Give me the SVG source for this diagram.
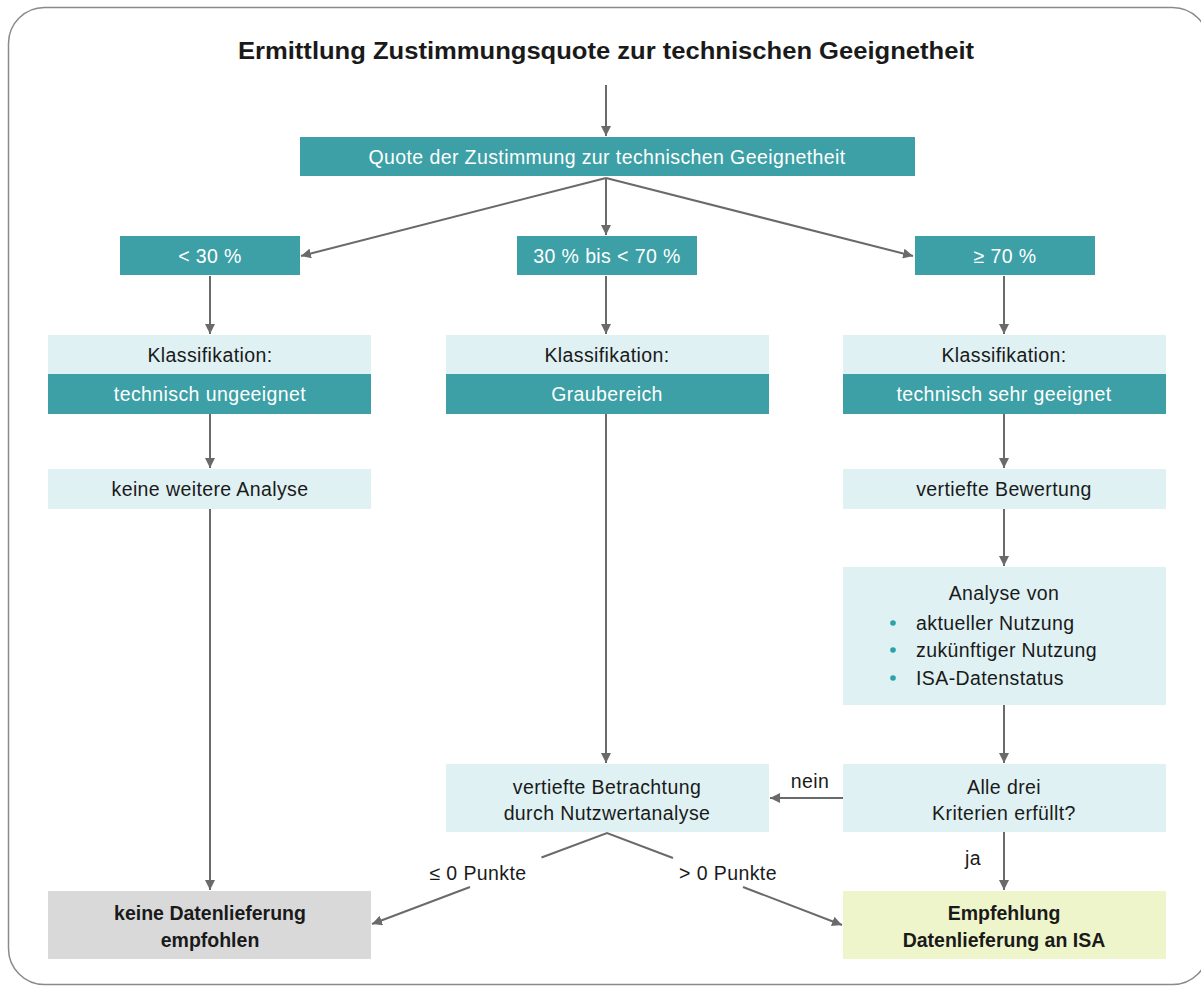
<svg xmlns="http://www.w3.org/2000/svg" width="1201" height="987" viewBox="0 0 1201 987">
<defs>
<marker id="ah" viewBox="0 0 10 10" refX="10" refY="5" markerWidth="10" markerHeight="10" markerUnits="userSpaceOnUse" orient="auto">
<path d="M0,0 L10,5 L0,10 z" fill="#6a6a6a"/>
</marker>
<style>
.t{font-family:"Liberation Sans",Arial,sans-serif;font-size:19.5px;letter-spacing:0.4px;text-anchor:middle;fill:#1a1a1a}
.w{fill:#ffffff}
.b{font-weight:bold;letter-spacing:0}
.teal{fill:#3ca0a6}
.lt{fill:#dff1f3}
.gr{fill:#d9d9d9}
.yl{fill:#eff5cb}
.c{stroke:#6a6a6a;stroke-width:2;fill:none}
.ca{stroke:#6a6a6a;stroke-width:2;fill:none;marker-end:url(#ah)}
</style>
</defs>
<rect width="1201" height="987" fill="#ffffff"/>
<rect x="8.5" y="7.5" width="1200" height="977" rx="36" fill="none" stroke="#8a8a8a" stroke-width="1.5"/>
<text id="title" x="606" y="59" class="t b" style="font-size:23px" fill="#000" textLength="736" lengthAdjust="spacingAndGlyphs">Ermittlung Zustimmungsquote zur technischen Geeignetheit</text>

<g id="connectors">
<line x1="606" y1="85" x2="606" y2="136" class="ca"/>
<line x1="606" y1="178" x2="301" y2="256" class="ca"/>
<line x1="606" y1="178" x2="606" y2="235" class="ca"/>
<line x1="606" y1="178" x2="913" y2="256" class="ca"/>
<line x1="210" y1="276" x2="210" y2="334" class="ca"/>
<line x1="606" y1="276" x2="606" y2="334" class="ca"/>
<line x1="1004" y1="276" x2="1004" y2="334" class="ca"/>
<line x1="210" y1="414" x2="210" y2="468" class="ca"/>
<line x1="1004" y1="414" x2="1004" y2="468" class="ca"/>
<line x1="606" y1="414" x2="606" y2="763" class="ca"/>
<line x1="1004" y1="509" x2="1004" y2="566" class="ca"/>
<line x1="1004" y1="705" x2="1004" y2="763" class="ca"/>
<line x1="843" y1="798" x2="770" y2="798" class="ca"/>
<line x1="1004" y1="832" x2="1004" y2="890" class="ca"/>
<line x1="210" y1="509" x2="210" y2="890" class="ca"/>
<polyline points="541.5,857.5 607,833 673,858" class="c"/>
<line x1="470" y1="887" x2="372" y2="924" class="ca"/>
<line x1="743" y1="887" x2="842" y2="925" class="ca"/>
<text x="810" y="788" class="t">nein</text>
<text x="973" y="865" class="t">ja</text>
<text x="478" y="880" class="t">≤ 0 Punkte</text>
<text x="728" y="880" class="t">&gt; 0 Punkte</text>
</g>

<g id="quote">
<rect x="300" y="137" width="615" height="39" class="teal"/>
<text x="607" y="164" class="t w">Quote der Zustimmung zur technischen Geeignetheit</text>
</g>
<g id="lt30">
<rect x="120" y="236" width="180" height="39" class="teal"/>
<text x="210" y="263" class="t w">&lt; 30 %</text>
</g>
<g id="mid">
<rect x="517" y="236" width="180" height="39" class="teal"/>
<text x="607" y="263" class="t w">30 % bis &lt; 70 %</text>
</g>
<g id="ge70">
<rect x="915" y="236" width="180" height="39" class="teal"/>
<text x="1005" y="263" class="t w">≥ 70 %</text>
</g>

<g id="klass1">
<rect x="48" y="335" width="323" height="40" class="lt"/>
<rect x="48" y="374" width="323" height="40" class="teal"/>
<text x="210" y="362" class="t">Klassifikation:</text>
<text x="210" y="401" class="t w">technisch ungeeignet</text>
</g>
<g id="klass2">
<rect x="446" y="335" width="323" height="40" class="lt"/>
<rect x="446" y="374" width="323" height="40" class="teal"/>
<text x="607" y="362" class="t">Klassifikation:</text>
<text x="607" y="401" class="t w">Graubereich</text>
</g>
<g id="klass3">
<rect x="843" y="335" width="323" height="40" class="lt"/>
<rect x="843" y="374" width="323" height="40" class="teal"/>
<text x="1004" y="362" class="t">Klassifikation:</text>
<text x="1004" y="401" class="t w">technisch sehr geeignet</text>
</g>

<g id="keineAnalyse">
<rect x="48" y="469" width="323" height="40" class="lt"/>
<text x="210" y="496" class="t">keine weitere Analyse</text>
</g>
<g id="vertBewertung">
<rect x="843" y="469" width="323" height="40" class="lt"/>
<text x="1004" y="496" class="t">vertiefte Bewertung</text>
</g>

<g id="analyse">
<rect x="843" y="567" width="323" height="138" class="lt"/>
<text x="1004" y="600" class="t">Analyse von</text>
<circle cx="893" cy="623" r="2.8" fill="#2aa3a8"/>
<circle cx="893" cy="650" r="2.8" fill="#2aa3a8"/>
<circle cx="893" cy="678" r="2.8" fill="#2aa3a8"/>
<text x="916" y="630" class="t" style="text-anchor:start">aktueller Nutzung</text>
<text x="916" y="657" class="t" style="text-anchor:start">zukünftiger Nutzung</text>
<text x="916" y="685" class="t" style="text-anchor:start">ISA-Datenstatus</text>
</g>

<g id="betrachtung">
<rect x="446" y="764" width="323" height="68" class="lt"/>
<text x="607" y="794" class="t">vertiefte Betrachtung</text>
<text x="607" y="820" class="t">durch Nutzwertanalyse</text>
</g>
<g id="kriterien">
<rect x="843" y="764" width="323" height="68" class="lt"/>
<text x="1004" y="794" class="t">Alle drei</text>
<text x="1004" y="820" class="t">Kriterien erfüllt?</text>
</g>

<g id="keineLieferung">
<rect x="48" y="891" width="323" height="68" class="gr"/>
<text x="210" y="920" class="t b">keine Datenlieferung</text>
<text x="210" y="947" class="t b">empfohlen</text>
</g>
<g id="empfehlung">
<rect x="843" y="891" width="323" height="68" class="yl"/>
<text x="1004" y="920" class="t b">Empfehlung</text>
<text x="1004" y="947" class="t b">Datenlieferung an ISA</text>
</g>
</svg>
